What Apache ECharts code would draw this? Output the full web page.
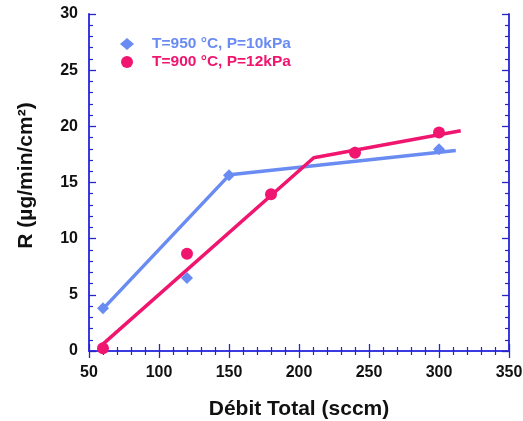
<!DOCTYPE html>
<html><head><meta charset="utf-8">
<script src="https://cdn.jsdelivr.net/npm/echarts@6/dist/echarts.min.js"></script>
<style>html,body{margin:0;padding:0;background:#fff}#c{width:523px;height:421px}</style>
</head><body><div id="c"></div>
<script>
const blueName = 'T=950 °C, P=10kPa';
const redName = 'T=900 °C, P=12kPa';
const blueX = [60, 120, 150, 240, 300];
const blueY = [3.8, 6.5, 15.65, 17.7, 17.95];
const redX = [60, 120, 180, 240, 300];
const redY = [0.25, 8.65, 13.95, 17.65, 19.45];
const blueFitX = [60, 150.5, 312];
const blueFitY = [3.75, 15.7, 17.85];
const redFitX = [57.5, 210.5, 315.5];
const redFitY = [0.35, 17.2, 19.6];
const BLUE = '#6a8cf2', RED = '#f0156f', AXIS = '#3a3ae0', TICK = '#2424c8';
const zip = (a, b) => a.map((v, i) => [v, b[i]]);
const font = 'Liberation Sans, Arial, sans-serif';
const chart = echarts.init(document.getElementById('c'));
const baseAxis = {
  type: 'value', axisLine: {show: true, lineStyle: {color: AXIS, width: 2}},
  axisTick: {show: true, inside: true, length: 7, lineStyle: {color: TICK, width: 1.3}},
  minorTick: {show: true, splitNumber: 5, length: 4, lineStyle: {color: TICK, width: 1.2}},
  splitLine: {show: false}
};
const labelStyle = {color: '#111', fontWeight: 'bold', fontSize: 16, fontFamily: font};
chart.setOption({
  animation: false,
  grid: {left: 89, right: 14, top: 14, bottom: 70, containLabel: false, outerBoundsMode: 'none'},
  legend: {
    left: 115, top: 31, orient: 'vertical', itemGap: 2, itemWidth: 14, itemHeight: 12,
    data: [
      {name: blueName, icon: 'diamond', textStyle: {color: BLUE}},
      {name: redName, icon: 'circle', textStyle: {color: RED}}
    ],
    textStyle: {fontWeight: 'bold', fontSize: 15.5, fontFamily: font, padding: [0, 0, 0, 13]}
  },
  xAxis: [
    Object.assign({}, baseAxis, {min: 50, max: 350, interval: 50, position: 'bottom',
      axisLabel: Object.assign({margin: 14}, labelStyle),
      name: 'Débit Total (sccm)', nameLocation: 'middle', nameGap: 48,
      nameTextStyle: {color: '#111', fontWeight: 'bold', fontSize: 21, fontFamily: font}}),
    Object.assign({}, baseAxis, {min: 50, max: 350, interval: 50, position: 'top', axisLabel: {show: false}})
  ],
  yAxis: [
    Object.assign({}, baseAxis, {min: 0, max: 30, interval: 5, position: 'left',
      axisLabel: Object.assign({margin: 11}, labelStyle),
      name: 'R (µg/min/cm²)', nameLocation: 'middle', nameGap: 52,
      nameTextStyle: {color: '#111', fontWeight: 'bold', fontSize: 21, fontFamily: font, padding: [0, 0, 0, 14]}}),
    Object.assign({}, baseAxis, {min: 0, max: 30, interval: 5, position: 'right', axisLabel: {show: false}})
  ],
  series: [
    {name: blueName + ' fit', type: 'line', data: zip(blueFitX, blueFitY), symbol: 'none',
      lineStyle: {color: BLUE, width: 3.5}, z: 2},
    {name: redName + ' fit', type: 'line', data: zip(redFitX, redFitY), symbol: 'none',
      lineStyle: {color: RED, width: 3.5}, z: 2},
    {name: blueName, type: 'scatter', data: zip(blueX, blueY), symbol: 'diamond', symbolSize: 12,
      itemStyle: {color: BLUE, opacity: 1}, z: 3},
    {name: redName, type: 'scatter', data: zip(redX, redY), symbol: 'circle', symbolSize: 12,
      itemStyle: {color: RED, opacity: 1}, z: 4}
  ]
});
</script></body></html>
